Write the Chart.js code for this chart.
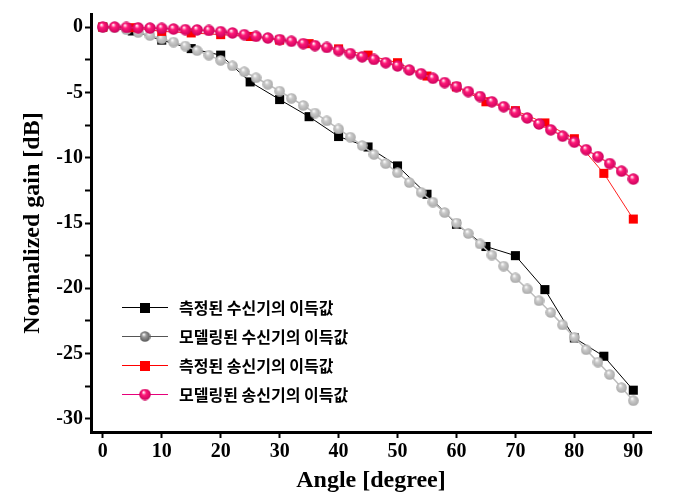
<!DOCTYPE html>
<html>
<head>
<meta charset="utf-8">
<script src="https://cdn.jsdelivr.net/npm/chart.js@4.4.0/dist/chart.umd.min.js"></script>
<style>
  html, body { margin: 0; padding: 0; background: #fff; }
  #wrap { width: 681px; height: 502px; }
</style>
</head>
<body>
<div id="wrap"><canvas id="gainChart" width="681" height="502"></canvas></div>
<script>
// angles (degree)
const angles5 = [0, 5, 10, 15, 20, 25, 30, 35, 40, 45, 50, 55, 60, 65, 70, 75, 80, 85, 90];
const angles2 = [0, 2, 4, 6, 8, 10, 12, 14, 16, 18, 20, 22, 24, 26, 28, 30, 32, 34, 36, 38, 40, 42, 44,
                 46, 48, 50, 52, 54, 56, 58, 60, 62, 64, 66, 68, 70, 72, 74, 76, 78, 80, 82, 84, 86, 88, 90];

// measured receiver gain (dB)
const rxMeasured = [0, -0.3, -1.0, -1.65, -2.15, -4.2, -5.55, -6.86, -8.38, -9.18,
                    -10.63, -12.8, -15.1, -16.8, -17.5, -20.1, -23.8, -25.2, -27.8];
// modelled receiver gain (dB)
const rxModel = [0, -0.05, -0.2, -0.42, -0.65, -0.9, -1.15, -1.45, -1.8, -2.15, -2.55, -2.97, -3.42,
                 -3.88, -4.38, -4.9, -5.45, -6.0, -6.58, -7.18, -7.8, -8.43, -9.07, -9.75, -10.45,
                 -11.15, -11.9, -12.65, -13.4, -14.2, -15.0, -15.8, -16.6, -17.45, -18.3, -19.2,
                 -20.05, -20.95, -21.85, -22.8, -23.75, -24.7, -25.65, -26.6, -27.6, -28.6];
// measured transmitter gain (dB)
const txMeasured = [0, -0.05, -0.33, -0.45, -0.58, -0.72, -1.0, -1.27, -1.67, -2.15,
                    -2.73, -3.75, -4.58, -5.72, -6.4, -7.34, -8.55, -11.2, -14.7];
// modelled transmitter gain (dB)
const txModel = [0, 0, -0.03, -0.06, -0.08, -0.1, -0.15, -0.2, -0.22, -0.26, -0.35, -0.45, -0.58,
                 -0.71, -0.84, -0.96, -1.09, -1.27, -1.42, -1.56, -1.8, -2.03, -2.28, -2.48, -2.73,
                 -2.98, -3.29, -3.57, -3.92, -4.25, -4.56, -4.94, -5.32, -5.72, -6.1, -6.53, -6.96,
                 -7.42, -7.87, -8.35, -8.81, -9.39, -9.92, -10.45, -11.03, -11.64];

const seriesNames = ['측정된 수신기의 이득값', '모델링된 수신기의 이득값', '측정된 송신기의 이득값', '모델링된 송신기의 이득값'];
const xTicks = [0, 10, 20, 30, 40, 50, 60, 70, 80, 90];
const yTicks = [0, -2.5, -5, -7.5, -10, -12.5, -15, -17.5, -20, -22.5, -25, -27.5, -30];
const yLabels = [0, -5, -10, -15, -20, -25, -30];

const toPoints = (xs, ys) => xs.map((x, i) => ({ x: x, y: ys[i] }));

// little shaded ball used as point marker
function sphere(d, base, dark) {
    const c = document.createElement('canvas');
    c.width = d; c.height = d;
    const g = c.getContext('2d');
    const r = d / 2;
    const grad = g.createRadialGradient(r * 0.75, r * 0.6, 0.3, r, r, r);
    grad.addColorStop(0, '#ffffff');
    grad.addColorStop(0.35, base);
    grad.addColorStop(1, dark);
    g.fillStyle = grad;
    g.beginPath();
    g.arc(r, r, r - 0.2, 0, Math.PI * 2);
    g.fill();
    return c;
}

const greyBall = sphere(11, '#cacaca', '#a8a8a8');
const greyBallLegend = sphere(11, '#9a9a9a', '#555555');
const pinkBall = sphere(12, '#ff1a78', '#c8005c');

const innerLegend = {
    id: 'innerLegend',
    afterDatasetsDraw(chart) {
        const ctx = chart.ctx;
        chart.data.datasets.forEach((ds, i) => {
            const y = 307 + i * 29;
            ctx.save();
            ctx.strokeStyle = ds.legendLine;
            ctx.lineWidth = 1;
            ctx.beginPath();
            ctx.moveTo(122, y + 0.5);
            ctx.lineTo(168, y + 0.5);
            ctx.stroke();
            if (ds.legendMarker) {
                const m = ds.legendMarker;
                ctx.drawImage(m, 145 - m.width / 2, y - m.height / 2 + 0.5);
            } else {
                ctx.fillStyle = ds.pointBackgroundColor;
                ctx.fillRect(140, y - 4, 10, 10);
            }
            ctx.fillStyle = '#000';
            ctx.font = 'bold 16px "Noto Sans CJK KR"';
            ctx.textBaseline = 'middle';
            ctx.fillText(ds.label, 179, y + 1);
            ctx.restore();
        });
    }
};

new Chart(document.getElementById('gainChart'), {
    type: 'scatter',
    data: {
        datasets: [
            {
                label: seriesNames[0],
                data: toPoints(angles5, rxMeasured),
                showLine: true,
                borderColor: '#000000',
                borderWidth: 1,
                pointStyle: 'rect',
                pointRadius: 6.4,
                pointBackgroundColor: '#000000',
                pointBorderWidth: 0,
                legendLine: '#000000',
                order: 4
            },
            {
                label: seriesNames[1],
                data: toPoints(angles2, rxModel),
                showLine: true,
                borderColor: '#bdbdbd',
                borderWidth: 1.5,
                pointStyle: greyBall,
                pointRadius: 5.5,
                legendLine: '#555555',
                legendMarker: greyBallLegend,
                order: 3
            },
            {
                label: seriesNames[2],
                data: toPoints(angles5, txMeasured),
                showLine: true,
                borderColor: '#ff2020',
                borderWidth: 1,
                pointStyle: 'rect',
                pointRadius: 6.4,
                pointBackgroundColor: '#ff0000',
                pointBorderWidth: 0,
                legendLine: '#ff0000',
                order: 2
            },
            {
                label: seriesNames[3],
                data: toPoints(angles2, txModel),
                showLine: true,
                borderColor: '#ff3a6e',
                borderWidth: 1.5,
                pointStyle: pinkBall,
                pointRadius: 6,
                legendLine: '#e6007a',
                legendMarker: pinkBall,
                order: 1
            }
        ]
    },
    options: {
        responsive: false,
        animation: false,
        events: [],
        layout: { padding: { left: 0, top: 11, right: 30, bottom: 0 } },
        plugins: {
            legend: { display: false },
            tooltip: { enabled: false }
        },
        scales: {
            x: {
                type: 'linear',
                min: -2,
                max: 93,
                afterFit: s => { s.height = 70; },
                afterBuildTicks: s => { s.ticks = xTicks.map(v => ({ value: v })); },
                border: { display: true, color: '#000', width: 3 },
                grid: { display: true, drawOnChartArea: false, drawTicks: true, tickLength: 6, tickColor: '#000', tickWidth: 2 },
                ticks: {
                    color: '#000',
                    padding: 2,
                    maxRotation: 0,
                    font: { family: '"Liberation Serif"', size: 20, weight: 'bold' }
                },
                title: {
                    display: true,
                    text: 'Angle [degree]',
                    color: '#000',
                    padding: { top: 0, bottom: 7 },
                    font: { family: '"Liberation Serif"', size: 24, weight: 'bold' }
                }
            },
            y: {
                type: 'linear',
                min: -31,
                max: 1,
                afterFit: s => { s.width = 91; },
                afterBuildTicks: s => { s.ticks = yTicks.map(v => ({ value: v })); },
                border: { display: true, color: '#000', width: 3 },
                grid: { display: true, drawOnChartArea: false, drawTicks: true, tickLength: 6, tickColor: '#000', tickWidth: 2 },
                ticks: {
                    color: '#000',
                    padding: 2,
                    font: { family: '"Liberation Serif"', size: 20, weight: 'bold' },
                    callback: v => (yLabels.includes(v) ? String(v) : '')
                },
                title: {
                    display: true,
                    text: 'Normalized gain [dB]',
                    color: '#000',
                    padding: { top: 18, bottom: 0 },
                    font: { family: '"Liberation Serif"', size: 24, weight: 'bold' }
                }
            }
        }
    },
    plugins: [innerLegend]
});
</script>
</body>
</html>
